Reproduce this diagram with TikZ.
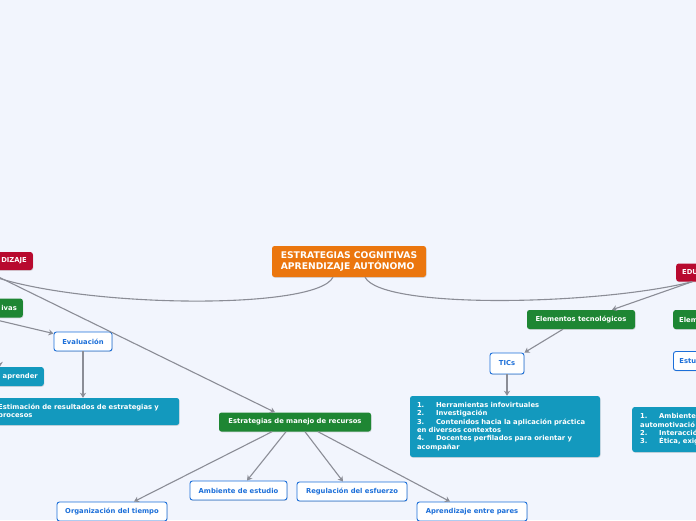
\documentclass[tikz,border=0pt]{standalone}
\usepackage{fontspec}
\setmainfont{DejaVu Sans}
\usetikzlibrary{arrows.meta, positioning, shadows}
\definecolor{bgblue}{HTML}{F2F5FD}
\definecolor{rootorange}{HTML}{EB760E}
\definecolor{mainred}{HTML}{B80A2F}
\definecolor{subgreen}{HTML}{1E8633}
\definecolor{infoteal}{HTML}{1399BE}
\definecolor{leafblue}{HTML}{1C6FD9}
\definecolor{linkgray}{HTML}{8B8D96}
\newcommand{\itemnum}[1]{\makebox[19pt][l]{#1}}

\begin{document}
\begin{tikzpicture}[x=1pt, y=-1pt,
    box/.style={rounded corners=2.5pt, inner xsep=6pt, inner ysep=3pt, font=\fontsize{6.8}{8.4}\selectfont\bfseries, drop shadow={shadow xshift=0.5pt, shadow yshift=-0.8pt, opacity=0.25}},
    rootbox/.style={box, fill=rootorange, text=white, font=\fontsize{9.2}{11}\selectfont\bfseries, align=left, minimum width=154pt, minimum height=31pt},
    redbox/.style={box, fill=mainred, text=white, minimum height=18pt},
    greenbox/.style={box, fill=subgreen, text=white, minimum height=19pt},
    tealbox/.style={box, fill=infoteal, text=white, align=left},
    leafbox/.style={box, fill=white, draw=leafblue, line width=0.9pt, text=leafblue, minimum height=19pt},
    link/.style={draw=linkgray, line width=1.1pt},
    arrowlink/.style={link, -{Stealth[length=5pt, width=6pt]}}]
    \fill[bgblue] (0,0) rectangle (696,520);
    \clip (0,0) rectangle (696,520);

    \node[rootbox] (root) at (349,261.5) {ESTRATEGIAS COGNITIVAS\\APRENDIZAJE AUTÓNOMO};

    \node[redbox, text width=60pt, align=right, anchor=east] (learnRed) at (33,261) {DIZAJE};
    \node[greenbox, text width=60pt, align=right, anchor=east] (cogGreen) at (23,308) {ivas};
    \node[tealbox, text width=70pt, align=right, anchor=east, minimum height=19pt] (learnTeal) at (44,376.5) {aprender};
    \node[tealbox, text width=175pt, anchor=west, minimum height=27pt] (estimTeal) at (-8,411.5) {Estimación de resultados de estrategias y\\procesos};
    \node[leafbox, minimum width=58pt] (evalLeaf) at (83,341.5) {Evaluación};

    \node[greenbox, minimum width=152pt] (resGreen) at (295,422) {Estrategias de manejo de recursos};
    \node[leafbox, minimum width=110pt] (timeLeaf) at (112,511.5) {Organización del tiempo};
    \node[leafbox, minimum width=97pt] (envLeaf) at (238.5,490.5) {Ambiente de estudio};
    \node[leafbox, minimum width=110pt] (effortLeaf) at (352,491.5) {Regulación del esfuerzo};
    \node[leafbox, minimum width=110pt] (peerLeaf) at (472,511.5) {Aprendizaje entre pares};

    \node[redbox, text width=60pt, align=left, anchor=west] (eduRed) at (676,272.5) {EDU};
    \node[greenbox, minimum width=108pt] (techGreen) at (581,319.5) {Elementos tecnológicos};
    \node[greenbox, text width=60pt, align=left, anchor=west] (elemGreen) at (673,319.5) {Elem};
    \node[leafbox, minimum width=34pt, minimum height=21pt] (ticsLeaf) at (507,363.5) {TICs};
    \node[leafbox, text width=60pt, align=left, anchor=west] (studyLeaf) at (673,361) {Estu};
    \node[tealbox, text width=176pt, inner xsep=7pt, minimum height=61pt] (ticsTeal) at (505,426.5) {\itemnum{1.}Herramientas infovirtuales\\
        \itemnum{2.}Investigación\\
        \itemnum{3.}Contenidos hacia la aplicación práctica\\
        en diversos contextos\\
        \itemnum{4.}Docentes perfilados para orientar y\\
        acompañar};
    \node[tealbox, text width=100pt, inner xsep=8pt, anchor=west, minimum height=45pt] (envTeal) at (632,429.5) {\itemnum{1.}Ambiente\\
        automotivació\\
        \itemnum{2.}Interacció\\
        \itemnum{3.}Ética, exig};

    \draw[link] ([xshift=-16pt]root.south) .. controls (316,312) and (60,308) .. ([xshift=-20pt]learnRed.south);
    \draw[link] ([xshift=16pt]root.south) .. controls (382,310) and (600,305) .. ([xshift=-20pt]eduRed.south);
    \draw[arrowlink] ([xshift=-12pt]learnRed.south) -- ([xshift=-20pt]resGreen.north);
    \draw[arrowlink] (cogGreen.south) -- ([yshift=-2pt]evalLeaf.north west);
    \draw[arrowlink] ([xshift=13pt]cogGreen.south) -- ([xshift=-3pt]learnTeal.north);
    \draw[arrowlink] (evalLeaf.south) -- (estimTeal.north -| evalLeaf.south);
    \draw[arrowlink] ([xshift=-23pt]resGreen.south) -- ([xshift=22pt]timeLeaf.north);
    \draw[arrowlink] ([xshift=-9pt]resGreen.south) -- ([xshift=8.5pt]envLeaf.north);
    \draw[arrowlink] ([xshift=10pt]resGreen.south) -- ([xshift=-9pt]effortLeaf.north);
    \draw[arrowlink] ([xshift=23pt]resGreen.south) -- ([xshift=-22pt]peerLeaf.north);
    \draw[arrowlink] ([xshift=-20pt]eduRed.south) -- ([xshift=31pt]techGreen.north);
    \draw[arrowlink] ([xshift=-18pt]techGreen.south) -- (ticsLeaf.north east);
    \draw[arrowlink] (ticsLeaf.south) -- (ticsTeal.north -| ticsLeaf.south);
\end{tikzpicture}
\end{document}
